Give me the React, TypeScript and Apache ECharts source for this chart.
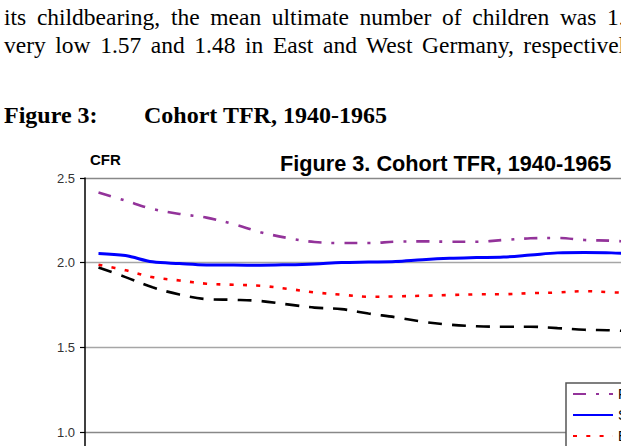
import React, { useEffect, useRef } from "react";
import * as echarts from "echarts";

// Birth cohorts on the horizontal axis
const cohortYears = [
  "1940", "1941", "1942", "1943", "1944", "1945", "1946", "1947", "1948",
  "1949", "1950", "1951", "1952", "1953", "1954", "1955", "1956", "1957",
  "1958", "1959", "1960", "1961", "1962", "1963", "1964", "1965",
];

// Completed cohort fertility by country / region
const france = [
  2.415, 2.366, 2.317, 2.288, 2.266, 2.228, 2.18, 2.146, 2.122, 2.116, 2.116,
  2.124, 2.126, 2.124, 2.124, 2.134, 2.144, 2.146, 2.134, 2.13, 2.12, 2.11,
  2.1, 2.09, 2.08, 2.06,
];
const sweden = [
  2.055, 2.042, 2.005, 1.995, 1.987, 1.986, 1.985, 1.988, 1.993, 2.001, 2.004,
  2.007, 2.018, 2.026, 2.03, 2.033, 2.045, 2.058, 2.06, 2.058, 2.05, 2.04,
  2.02, 2.0, 1.98, 1.96,
];
const europe = [
  1.988, 1.955, 1.915, 1.895, 1.876, 1.87, 1.864, 1.846, 1.825, 1.811, 1.799,
  1.801, 1.805, 1.809, 1.813, 1.814, 1.82, 1.824, 1.832, 1.825, 1.82, 1.81,
  1.8, 1.79, 1.78, 1.77,
];
const germany = [
  1.972, 1.915, 1.855, 1.812, 1.785, 1.781, 1.774, 1.754, 1.735, 1.726, 1.7,
  1.678, 1.652, 1.634, 1.625, 1.622, 1.622, 1.614, 1.604, 1.601, 1.59, 1.57,
  1.56, 1.54, 1.53, 1.51,
];
const seriesNames = ["France", "Sweden", "Europe", "Germany"];

const SANS = '"Liberation Sans", Arial, sans-serif';
const SERIF = '"Liberation Serif", "Times New Roman", serif';

export default function App() {
  const ref = useRef<HTMLDivElement>(null);

  useEffect(() => {
    if (!ref.current) return;
    const chart = echarts.init(ref.current, null, { renderer: "svg" });
    const lineSeries = (
      name: string,
      data: number[],
      color: string,
      width: number,
      type: any
    ) => ({
      name,
      type: "line",
      data,
      symbol: "none",
      smooth: 0.35,
      lineStyle: { color, width, type, cap: "butt" },
      itemStyle: { color },
    });
    chart.setOption({
      animation: false,
      backgroundColor: "transparent",
      title: {
        text: "Figure 3. Cohort TFR, 1940-1965",
        left: 280,
        top: 151,
        padding: 0,
        textStyle: {
          fontFamily: SANS,
          fontSize: 21.7,
          fontWeight: "bold",
          color: "#000",
          lineHeight: 24,
        },
      },
      graphic: [
        {
          type: "text",
          left: 90,
          top: 152,
          style: {
            text: "CFR",
            font: `bold 15px ${SANS}`,
            fill: "#000",
          },
        },
      ],
      legend: {
        orient: "vertical",
        left: 566,
        top: 383,
        padding: [4, 6, 4, 6],
        itemWidth: 40,
        itemHeight: 14,
        itemGap: 7,
        backgroundColor: "#fff",
        borderColor: "#555",
        borderWidth: 1.5,
        borderRadius: 0,
        itemStyle: { opacity: 0 },
        textStyle: { fontFamily: SANS, fontSize: 14, color: "#000" },
        data: seriesNames,
      },
      grid: { left: 85, top: 178, width: 702, height: 338.8 },
      xAxis: {
        type: "category",
        data: cohortYears,
        boundaryGap: true,
        axisLine: { lineStyle: { color: "#000", width: 1.5 } },
        axisTick: { show: false },
        axisLabel: { show: false },
      },
      yAxis: {
        type: "value",
        min: 0.5,
        max: 2.5,
        interval: 0.5,
        axisLine: { show: true, lineStyle: { color: "#000", width: 1.5 } },
        axisTick: {
          show: true,
          inside: false,
          length: 5,
          lineStyle: { color: "#000", width: 1.2 },
        },
        axisLabel: {
          margin: 10,
          showMinLabel: false,
          fontFamily: SANS,
          fontSize: 13,
          color: "#333",
          formatter: (v: number) => v.toFixed(1),
        },
        splitLine: {
          show: true,
          lineStyle: {
            color: ["#999", "#888", "#a6a6a6", "#a6a6a6", "#888"],
            width: 1.3,
          },
        },
      },
      series: [
        lineSeries(seriesNames[0], france, "#93339a", 2.6, [13, 10, 3, 10]),
        lineSeries(seriesNames[1], sweden, "#0000ff", 3, "solid"),
        lineSeries(seriesNames[2], europe, "#ff0000", 2.6, [4, 9.3]),
        lineSeries(seriesNames[3], germany, "#000000", 2.6, [14, 10]),
      ],
    });
    return () => chart.dispose();
  }, []);

  return (
    <div
      style={{
        position: "fixed",
        left: 0,
        top: 0,
        width: 621,
        height: 446,
        overflow: "hidden",
        background: "#fff",
      }}
    >
      <div
        style={{
          position: "absolute",
          left: 4,
          top: 3,
          fontFamily: SERIF,
          fontSize: "23.5px",
          lineHeight: "28.2px",
          whiteSpace: "nowrap",
          color: "#000",
        }}
      >
        <div style={{ wordSpacing: "4.8px" }}>
          its childbearing, the mean ultimate number of children was 1.
        </div>
        <div style={{ wordSpacing: "3.7px" }}>
          very low 1.57 and 1.48 in East and West Germany, respectively.
        </div>
      </div>
      <div
        style={{
          position: "absolute",
          left: 4,
          top: 101,
          width: 600,
          fontFamily: SERIF,
          fontWeight: "bold",
          fontSize: "24px",
          lineHeight: "28.2px",
          whiteSpace: "nowrap",
          color: "#000",
        }}
      >
        <span>Figure 3:</span>
        <span style={{ position: "absolute", left: 140 }}>
          Cohort TFR, 1940-1965
        </span>
      </div>
      <div
        ref={ref}
        style={{ position: "absolute", left: 0, top: 0, width: 900, height: 600 }}
      />
    </div>
  );
}
